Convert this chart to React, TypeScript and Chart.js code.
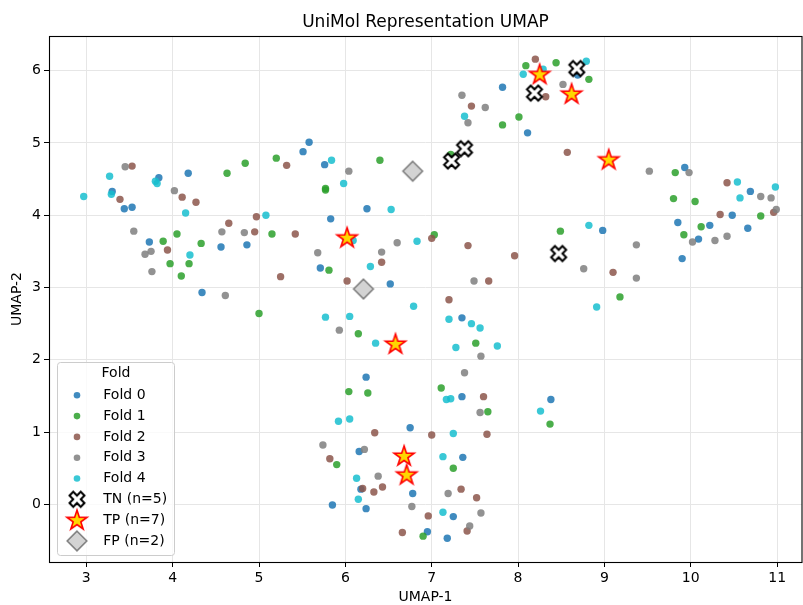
import React, { useEffect, useRef } from 'react';
import { Chart, registerables } from 'chart.js';

Chart.register(...registerables);

const FONT = '"DejaVu Sans", "Liberation Sans", sans-serif';

const xTicks = [3, 4, 5, 6, 7, 8, 9, 10, 11];
const yTicks = [0, 1, 2, 3, 4, 5, 6];

const fold0: [number, number][] = [
  [3.84, 4.52], [4.18, 4.58], [3.30, 4.33], [3.44, 4.09], [3.53, 4.11], [5.58, 5.01], [5.51, 4.88],
  [5.76, 4.70], [6.25, 4.09], [5.83, 3.95], [4.86, 3.59], [3.73, 3.63], [4.56, 3.56], [4.34, 2.93],
  [5.71, 3.27], [6.52, 3.05], [6.24, 1.76], [8.69, 5.94], [7.82, 5.77], [8.11, 5.14], [8.98, 3.79],
  [7.35, 2.58], [9.93, 4.66], [10.69, 4.33], [10.48, 4.00], [9.85, 3.90], [10.22, 3.86], [10.09, 3.67],
  [10.66, 3.82], [9.90, 3.40], [6.75, 1.06], [6.16, 0.73], [6.18, 0.21], [6.78, 0.15], [5.85, -0.01],
  [6.24, -0.06], [6.95, -0.38], [7.35, 1.49], [8.38, 1.45], [7.36, 0.65], [7.25, -0.17], [7.18, -0.47],
];

const fold1: [number, number][] = [
  [4.63, 4.58], [4.84, 4.72], [5.20, 4.79], [6.40, 4.76], [5.77, 4.37], [5.77, 4.35], [3.89, 3.64],
  [4.05, 3.74], [3.97, 3.33], [4.19, 3.33], [4.33, 3.61], [4.10, 3.16], [5.15, 3.74], [5.81, 3.24],
  [7.03, 3.73], [5.00, 2.64], [6.15, 2.36], [8.09, 6.07], [8.44, 6.11], [8.82, 5.88], [8.01, 5.36],
  [7.82, 5.25], [7.22, 4.84], [8.49, 3.78], [9.18, 2.87], [9.82, 4.59], [9.80, 4.23], [10.05, 4.19],
  [10.81, 3.99], [9.92, 3.73], [10.12, 3.84], [7.51, 2.23], [7.11, 1.61], [6.04, 1.56], [6.26, 1.54],
  [5.90, 0.55], [6.90, -0.44], [7.65, 1.28], [8.37, 1.11], [7.25, 0.50],
];

const fold2: [number, number][] = [
  [3.53, 4.68], [3.39, 4.22], [4.11, 4.25], [4.27, 4.18], [5.32, 4.69], [4.65, 3.89], [3.94, 3.52],
  [4.97, 3.98], [4.95, 3.77], [5.42, 3.74], [7.00, 3.68], [6.42, 3.35], [5.25, 3.15], [6.02, 3.09],
  [8.20, 6.16], [8.32, 5.64], [7.46, 5.51], [8.57, 4.87], [7.42, 3.58], [7.96, 3.44], [9.10, 3.21],
  [7.66, 3.09], [7.20, 2.83], [10.42, 4.45], [10.34, 4.01], [10.96, 4.04], [6.34, 0.99], [7.00, 0.96],
  [5.82, 0.63], [6.20, 0.22], [6.33, 0.17], [6.43, 0.24], [6.96, -0.16], [6.66, -0.39], [7.60, 1.49],
  [7.64, 0.97], [7.34, 0.21], [7.52, 0.09], [7.41, -0.37],
];

const fold3: [number, number][] = [
  [3.45, 4.67], [4.02, 4.34], [6.04, 4.61], [3.55, 3.78], [3.68, 3.46], [3.75, 3.50], [3.76, 3.22],
  [4.57, 3.77], [4.83, 3.76], [4.61, 2.89], [5.68, 3.48], [6.42, 3.49], [6.60, 3.62], [5.93, 2.41],
  [7.35, 5.66], [7.62, 5.49], [7.42, 5.28], [8.52, 5.81], [8.76, 3.26], [7.49, 3.09], [7.57, 2.05],
  [7.38, 1.82], [9.52, 4.61], [9.98, 4.59], [10.81, 4.26], [10.93, 4.24], [10.99, 4.08], [10.02, 3.63],
  [10.28, 3.65], [10.42, 3.71], [9.37, 3.59], [9.37, 3.13], [5.74, 0.82], [6.22, 0.76], [6.38, 0.39],
  [6.77, -0.03], [7.56, 1.27], [7.19, 0.15], [7.57, -0.12], [7.44, -0.30],
];

const fold4: [number, number][] = [
  [3.27, 4.54], [3.80, 4.47], [3.82, 4.44], [2.97, 4.26], [3.29, 4.29], [4.15, 4.03], [5.84, 4.76],
  [5.98, 4.44], [6.53, 4.08], [5.08, 4.00], [4.20, 3.45], [6.09, 3.65], [6.83, 3.64], [6.29, 3.29],
  [5.77, 2.59], [6.05, 2.60], [6.79, 2.74], [6.35, 2.23], [8.79, 6.13], [8.06, 5.95], [8.29, 6.02],
  [7.38, 5.37], [8.82, 3.86], [8.91, 2.73], [7.20, 2.56], [7.46, 2.50], [7.56, 2.44], [7.28, 2.17],
  [7.76, 2.19], [10.54, 4.46], [10.98, 4.39], [10.57, 4.24], [5.92, 1.15], [6.05, 1.18], [6.13, 0.36],
  [6.15, 0.07], [7.17, 1.45], [7.22, 1.46], [8.26, 1.29], [7.25, 0.98], [7.13, 0.66], [7.13, -0.11],
];

const tnPoints: [number, number][] = [[8.68, 6.03], [8.19, 5.69], [7.38, 4.92], [7.23, 4.75], [8.47, 3.47]];
const tpPoints: [number, number][] = [[8.25, 5.95], [8.62, 5.68], [9.05, 4.77], [6.02, 3.69], [6.58, 2.22], [6.68, 0.67], [6.71, 0.41]];
const fpPoints: [number, number][] = [[6.78, 4.61], [6.21, 2.98]];

const folds = [fold0, fold1, fold2, fold3, fold4];
const foldNames = ['Fold 0', 'Fold 1', 'Fold 2', 'Fold 3', 'Fold 4'];
const foldColors = [
  'rgba(31,119,180,0.85)',
  'rgba(44,160,44,0.85)',
  'rgba(140,86,75,0.85)',
  'rgba(127,127,127,0.85)',
  'rgba(23,190,207,0.85)',
];
const markerNames = ['TN (n=5)', 'TP (n=7)', 'FP (n=2)'];

const X_MIN = 2.568, X_MAX = 11.288, Y_MIN = -0.798, Y_MAX = 6.48;
const DOT_R = 3.7;

function makeCanvas(w: number, h: number) {
  const c = document.createElement('canvas');
  c.width = w;
  c.height = h;
  return c;
}

function makeX(): HTMLCanvasElement {
  const s = 15, lw = 2;
  const size = 22;
  const c = makeCanvas(size, size);
  const ctx = c.getContext('2d')!;
  ctx.translate(size / 2, size / 2);
  const pts = [
    [-0.25, -0.5], [0, -0.25], [0.25, -0.5], [0.5, -0.25], [0.25, 0], [0.5, 0.25],
    [0.25, 0.5], [0, 0.25], [-0.25, 0.5], [-0.5, 0.25], [-0.25, 0], [-0.5, -0.25],
  ];
  ctx.beginPath();
  pts.forEach(([px, py], i) => (i === 0 ? ctx.moveTo(px * s, py * s) : ctx.lineTo(px * s, py * s)));
  ctx.closePath();
  ctx.fillStyle = '#ffffff';
  ctx.fill();
  ctx.lineWidth = lw;
  ctx.lineJoin = 'miter';
  ctx.strokeStyle = '#000000';
  ctx.stroke();
  return c;
}

function makeStar(): HTMLCanvasElement {
  const R = 10.5, r = R * 0.381966;
  const size = 26;
  const c = makeCanvas(size, size);
  const ctx = c.getContext('2d')!;
  ctx.translate(size / 2, size / 2 + 0.5);
  ctx.beginPath();
  for (let i = 0; i < 10; i++) {
    const rad = i % 2 === 0 ? R : r;
    const a = -Math.PI / 2 + (i * Math.PI) / 5;
    const px = rad * Math.cos(a), py = rad * Math.sin(a);
    if (i === 0) ctx.moveTo(px, py); else ctx.lineTo(px, py);
  }
  ctx.closePath();
  ctx.fillStyle = '#FFD700';
  ctx.fill();
  ctx.lineWidth = 1.6;
  ctx.lineJoin = 'miter';
  ctx.strokeStyle = '#FF0000';
  ctx.stroke();
  return c;
}

function makeDiamond(): HTMLCanvasElement {
  const h = 9.8;
  const size = 24;
  const c = makeCanvas(size, size);
  const ctx = c.getContext('2d')!;
  ctx.translate(size / 2, size / 2);
  ctx.beginPath();
  ctx.moveTo(0, -h);
  ctx.lineTo(h, 0);
  ctx.lineTo(0, h);
  ctx.lineTo(-h, 0);
  ctx.closePath();
  ctx.fillStyle = '#D3D3D3';
  ctx.fill();
  ctx.lineWidth = 1.6;
  ctx.strokeStyle = '#808080';
  ctx.stroke();
  return c;
}

export default function App() {
  const ref = useRef<HTMLCanvasElement | null>(null);

  useEffect(() => {
    document.body.style.margin = '0';
    const canvas = ref.current;
    if (!canvas) return;
    const xImg = makeX();
    const starImg = makeStar();
    const diaImg = makeDiamond();
    const markerImgs = [xImg, starImg, diaImg];

    const toXY = (arr: [number, number][]) => arr.map(([x, y]) => ({ x, y }));

    const datasets: any[] = [];
    folds.forEach((f, i) => {
      datasets.push({
        label: foldNames[i],
        data: toXY(f),
        backgroundColor: foldColors[i],
        borderColor: foldColors[i],
        borderWidth: 0,
        pointRadius: DOT_R,
        pointStyle: 'circle',
        order: 10 - i,
      });
    });
    datasets.push({ label: markerNames[0], data: toXY(tnPoints), pointStyle: xImg, pointRadius: 9, order: 3 });
    datasets.push({ label: markerNames[1], data: toXY(tpPoints), pointStyle: starImg, pointRadius: 10, order: 2 });
    datasets.push({ label: markerNames[2], data: toXY(fpPoints), pointStyle: diaImg, pointRadius: 10, order: 1 });

    const decorPlugin = {
      id: 'decor',
      afterDatasetsDraw(chart: any) {
        const { ctx, chartArea } = chart;
        ctx.save();
        ctx.strokeStyle = '#000';
        ctx.lineWidth = 1.1;
        ctx.strokeRect(chartArea.left + 0.5, chartArea.top + 0.5, chartArea.right - chartArea.left - 0.5, chartArea.bottom - chartArea.top);
        ctx.restore();
      },
      afterDraw(chart: any) {
        const { ctx, chartArea } = chart;
        const cx = (chartArea.left + chartArea.right) / 2;
        const cy = (chartArea.top + chartArea.bottom) / 2;
        ctx.save();
        ctx.fillStyle = '#000';
        // title
        ctx.font = `17px ${FONT}`;
        ctx.textAlign = 'center';
        ctx.textBaseline = 'alphabetic';
        ctx.fillText('UniMol Representation UMAP', cx, 27);
        // axis labels
        ctx.font = `14px ${FONT}`;
        ctx.textBaseline = 'middle';
        ctx.fillText('UMAP-1', cx, 597);
        ctx.save();
        ctx.translate(17, cy);
        ctx.rotate(-Math.PI / 2);
        ctx.fillText('UMAP-2', 0, 0);
        ctx.restore();

        // legend
        const bx = 57.5, by = 362.5, bw = 117, bh = 193, rr = 3;
        ctx.beginPath();
        ctx.moveTo(bx + rr, by);
        ctx.lineTo(bx + bw - rr, by);
        ctx.quadraticCurveTo(bx + bw, by, bx + bw, by + rr);
        ctx.lineTo(bx + bw, by + bh - rr);
        ctx.quadraticCurveTo(bx + bw, by + bh, bx + bw - rr, by + bh);
        ctx.lineTo(bx + rr, by + bh);
        ctx.quadraticCurveTo(bx, by + bh, bx, by + bh - rr);
        ctx.lineTo(bx, by + rr);
        ctx.quadraticCurveTo(bx, by, bx + rr, by);
        ctx.closePath();
        ctx.fillStyle = 'rgba(255,255,255,0.8)';
        ctx.fill();
        ctx.strokeStyle = '#cccccc';
        ctx.lineWidth = 1;
        ctx.stroke();

        ctx.fillStyle = '#000';
        ctx.font = `14px ${FONT}`;
        ctx.textAlign = 'center';
        ctx.textBaseline = 'middle';
        ctx.fillText('Fold', bx + bw / 2, 373.5);

        const rowY0 = 395.3, rowStep = 20.8, mx = 77, tx = 103.3;
        ctx.textAlign = 'left';
        foldNames.forEach((name, i) => {
          const y = rowY0 + i * rowStep;
          ctx.beginPath();
          ctx.arc(mx, y, 3.3, 0, Math.PI * 2);
          ctx.fillStyle = foldColors[i];
          ctx.fill();
          ctx.fillStyle = '#000';
          ctx.fillText(name, tx, y);
        });
        markerNames.forEach((name, j) => {
          const y = rowY0 + (5 + j) * rowStep;
          const img = markerImgs[j];
          ctx.drawImage(img, mx - img.width / 2, y - img.height / 2);
          ctx.fillStyle = '#000';
          ctx.fillText(name, tx, y);
        });
        ctx.restore();
      },
    };

    const tickFont = { family: FONT, size: 14 };

    const chart = new Chart(canvas, {
      type: 'scatter',
      data: { datasets },
      options: {
        responsive: false,
        animation: false,
        events: [],
        layout: { autoPadding: false, padding: { top: 36, right: 1, left: 0, bottom: 0 } },
        plugins: {
          legend: { display: false },
          tooltip: { enabled: false },
          title: { display: false },
        },
        scales: {
          x: {
            type: 'linear',
            position: 'bottom',
            min: X_MIN,
            max: X_MAX,
            afterFit: (s: any) => { s.height = 43; s.paddingLeft = 0; s.paddingRight = 0; },
            afterBuildTicks: (s: any) => { s.ticks = xTicks.map((v) => ({ value: v })); },
            grid: { color: '#e6e6e6', lineWidth: 1, drawTicks: true, tickLength: 5, tickColor: '#000', tickWidth: 1 },
            border: { display: false },
            ticks: { padding: 3, color: '#000', font: tickFont, maxRotation: 0, autoSkip: false, callback: (v: any) => String(v) },
          },
          y: {
            type: 'linear',
            min: Y_MIN,
            max: Y_MAX,
            afterFit: (s: any) => { s.width = 49; s.paddingTop = 0; s.paddingBottom = 0; },
            afterBuildTicks: (s: any) => { s.ticks = yTicks.map((v) => ({ value: v })); },
            grid: { color: '#e6e6e6', lineWidth: 1, drawTicks: true, tickLength: 5, tickColor: '#000', tickWidth: 1 },
            border: { display: false },
            ticks: { padding: 3, color: '#000', font: tickFont, autoSkip: false, callback: (v: any) => String(v) },
          },
        },
      } as any,
      plugins: [decorPlugin],
    });

    return () => chart.destroy();
  }, []);

  return (
    <div style={{ width: 803, height: 605, overflow: 'hidden' }}>
      <canvas ref={ref} width={803} height={605} style={{ display: 'block', width: 803, height: 605 }} />
    </div>
  );
}
